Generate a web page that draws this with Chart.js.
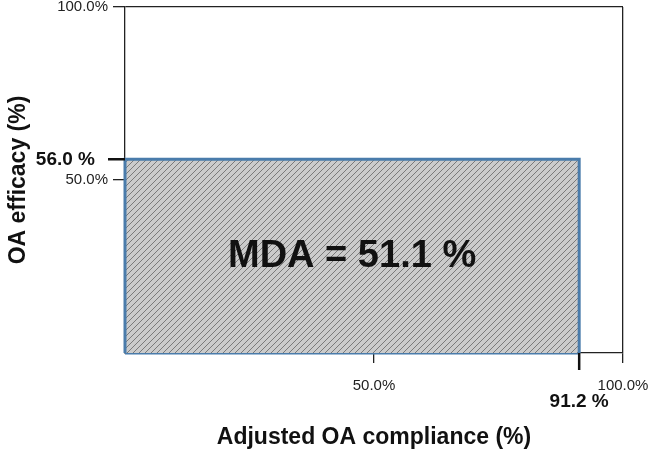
<!DOCTYPE html>
<html lang="en">
    <head>
        <meta charset="UTF-8" />
        <title>MDA</title>
        <script src="https://cdn.jsdelivr.net/npm/chart.js"></script>
        <style>
            html, body { margin: 0; padding: 0; background: #fff; }
        </style>
    </head>
    <body>
        <canvas id="myChart" width="650" height="451"></canvas>

        <script>
            // data
            const complianceTicks = [50, 100];
            const efficacyTicks = [50, 100];
            const compliance = 91.2; // adjusted OA compliance (%)
            const efficacy = 56.0; // OA efficacy (%)
            const mda = 51.1; // MDA (%)
            const areaX = [0, 0, compliance, compliance];
            const areaY = [0, efficacy, efficacy, 0];

            const font = "'Liberation Sans', Arial, sans-serif";

            // hatch pattern
            function hatch() {
                const c = document.createElement("canvas");
                c.width = 6;
                c.height = 6;
                const g = c.getContext("2d");
                g.fillStyle = "#cbcbcb";
                g.fillRect(0, 0, 6, 6);
                g.strokeStyle = "#7a7a7a";
                g.lineWidth = 1;
                g.beginPath();
                g.moveTo(-1, 7); g.lineTo(7, -1);
                g.moveTo(-1, 1); g.lineTo(1, -1);
                g.moveTo(5, 7); g.lineTo(7, 5);
                g.stroke();
                return g.createPattern(c, "repeat");
            }

            const marks = {
                id: "marks",
                afterDatasetsDraw(chart) {
                    const ctx = chart.ctx;
                    const a = chart.chartArea;
                    const xs = chart.scales.x;
                    const ys = chart.scales.y;
                    const py = ys.getPixelForValue(efficacy);
                    const px = xs.getPixelForValue(compliance);
                    ctx.save();
                    ctx.strokeStyle = "#111";
                    ctx.lineWidth = 2.5;
                    ctx.beginPath();
                    ctx.moveTo(a.left - 17, py);
                    ctx.lineTo(a.left, py);
                    ctx.moveTo(px, a.bottom);
                    ctx.lineTo(px, a.bottom + 17);
                    ctx.stroke();

                    ctx.fillStyle = "#111";
                    ctx.font = "bold 19px " + font;
                    ctx.textBaseline = "middle";
                    ctx.textAlign = "right";
                    ctx.fillText(efficacy.toFixed(1) + " %", a.left - 30, py + 1);
                    ctx.textAlign = "center";
                    ctx.fillText(compliance.toFixed(1) + " %", px, a.bottom + 49);

                    ctx.font = "bold 38px " + font;
                    ctx.fillText(
                        "MDA = " + mda.toFixed(1) + " %",
                        xs.getPixelForValue(compliance / 2),
                        ys.getPixelForValue(efficacy / 2)
                    );
                    ctx.restore();
                },
            };

            const edge = (ctx) =>
                ctx.tick && ctx.tick.value === 100 ? "#222" : "rgba(0,0,0,0)";

            var ctx = document.getElementById("myChart").getContext("2d");
            var myChart = new Chart(ctx, {
                type: "scatter",
                data: {
                    datasets: [
                        {
                            data: areaX.map((x, i) => ({ x: x, y: areaY[i] })),
                            showLine: true,
                            fill: "origin",
                            backgroundColor: hatch(),
                            borderColor: "#4a7cab",
                            borderWidth: 3,
                            pointRadius: 0,
                            clip: false,
                        },
                        {
                            data: [
                                { x: areaX[0], y: areaY[0] },
                                { x: areaX[3], y: areaY[3] },
                            ],
                            showLine: true,
                            borderColor: "#4a7cab",
                            borderWidth: 3,
                            pointRadius: 0,
                            clip: false,
                        },
                    ],
                },
                options: {
                    responsive: false,
                    animation: false,
                    events: [],
                    layout: { padding: { top: 7, right: 27, bottom: 0, left: 0 } },
                    plugins: {
                        legend: { display: false },
                        tooltip: { enabled: false },
                    },
                    scales: {
                        x: {
                            type: "linear",
                            min: 0,
                            max: 100,
                            afterBuildTicks: (s) => {
                                s.ticks = complianceTicks.map((v) => ({ value: v }));
                            },
                            afterFit: (s) => {
                                s.height = 98;
                                s.paddingLeft = 0;
                                s.paddingRight = 0;
                            },
                            border: { color: "#222", width: 1.3 },
                            grid: {
                                color: edge,
                                lineWidth: 1.3,
                                tickColor: "#222",
                                tickWidth: 1.3,
                                tickLength: 10,
                            },
                            ticks: {
                                padding: 15,
                                color: "#222",
                                maxRotation: 0,
                                font: { family: font, size: 15, lineHeight: 1 },
                                callback: (v) => v.toFixed(1) + "%",
                            },
                            title: {
                                display: true,
                                text: "Adjusted OA compliance (%)",
                                color: "#111",
                                padding: 0,
                                font: { family: font, size: 23, weight: "bold" },
                            },
                        },
                        y: {
                            type: "linear",
                            min: 0,
                            max: 100,
                            afterBuildTicks: (s) => {
                                s.ticks = efficacyTicks.map((v) => ({ value: v }));
                            },
                            afterFit: (s) => {
                                s.width = 125;
                                s.paddingTop = 0;
                                s.paddingBottom = 0;
                            },
                            border: { color: "#222", width: 1.3 },
                            grid: {
                                color: edge,
                                lineWidth: 1.3,
                                tickColor: "#222",
                                tickWidth: 1.3,
                                tickLength: 12,
                            },
                            ticks: {
                                padding: 5,
                                color: "#222",
                                font: { family: font, size: 15, lineHeight: 1 },
                                callback: (v) => v.toFixed(1) + "%",
                            },
                            title: {
                                display: true,
                                text: "OA efficacy (%)",
                                color: "#111",
                                padding: { top: 5, bottom: 0 },
                                font: { family: font, size: 23, weight: "bold" },
                            },
                        },
                    },
                },
                plugins: [marks],
            });
        </script>
    </body>
</html>
